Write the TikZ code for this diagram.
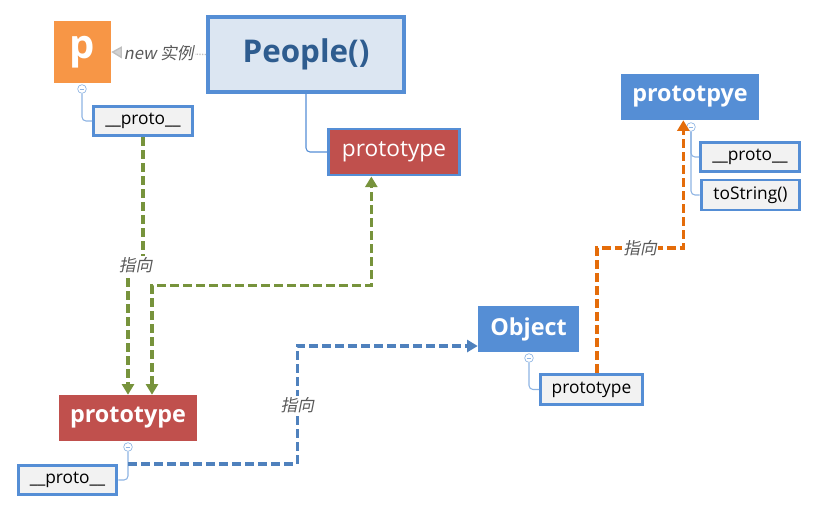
\documentclass[tikz,border=0pt]{standalone}
\usepackage{fontspec}
\setmainfont{Open Sans}
\newfontfamily\cjk[FakeSlant=0.2]{Noto Sans CJK SC}
\usetikzlibrary{arrows.meta, positioning}

\definecolor{boxblue}{HTML}{558ED5}
\definecolor{foldblue}{HTML}{8EB4E3}
\definecolor{porange}{HTML}{F79646}
\definecolor{protored}{HTML}{C0504D}
\definecolor{peoplefill}{HTML}{DCE6F2}
\definecolor{peopletext}{HTML}{2E5C8F}
\definecolor{lightfill}{HTML}{F2F2F2}
\definecolor{arrowgreen}{HTML}{77933C}
\definecolor{arroworange}{HTML}{E46C0A}
\definecolor{arrowblue}{HTML}{4F81BD}
\definecolor{labelgray}{HTML}{595959}

\begin{document}
\begin{tikzpicture}[x=0.75pt, y=-0.75pt,   % pixel-like units
    leaf/.style={
        draw=boxblue,
        fill=lightfill,
        line width=2.2pt,
        inner sep=0pt,
        minimum width=74pt,
        minimum height=22pt,
        font=\fontsize{13}{15}\selectfont
    },
    topic/.style={
        inner sep=0pt,
        text=white,
        font=\bfseries\fontsize{17.5}{20}\selectfont
    },
    fold/.style={
        circle, draw=foldblue, fill=white, line width=0.5pt,
        inner sep=0pt, minimum size=6.5pt,
        path picture={\draw[foldblue, line width=0.5pt]
            ([xshift=-1.8pt]path picture bounding box.center) --
            ([xshift=1.8pt]path picture bounding box.center);}
    },
    branch/.style={draw=foldblue, line width=0.8pt, rounded corners=3pt},
    tag/.style={
        fill=white, inner sep=1pt, text=labelgray,
        font=\cjk\fontsize{12.5}{14}\selectfont
    },
    link/.style={
        line width=2.6pt, dash pattern=on 6.75pt off 3pt,
        arrows={-Triangle[length=8pt, width=9pt]}
    }
]
    \useasboundingbox (0,0) rectangle (818,512);

    % 1. The instance p
    \node [topic, fill=porange, minimum width=42.75pt, minimum height=46.5pt,
        font=\bfseries\fontsize{30}{32}\selectfont] (p) at (82.5,52) {p};
    \node [fold] (pfold) at (82,89) {};
    \node [leaf] (pproto) at (143,121) {\_\_proto\_\_};
    \draw [branch] (pfold.south) |- (pproto.west);

    % 2. The constructor People()
    \node [draw=boxblue, fill=peoplefill, line width=3pt, inner sep=0pt,
        minimum width=147pt, minimum height=56pt, text=peopletext,
        font=\bfseries\fontsize{23.5}{26}\selectfont] (people) at (306,54.5) {People()};
    \node [topic, fill=protored, draw=boxblue, line width=2.2pt,
        minimum width=98.5pt, minimum height=34.5pt,
        font=\fontsize{17}{19}\selectfont] (peopleproto) at (394,152) {prototype};
    \draw [draw=boxblue, line width=0.8pt, rounded corners=3pt]
        (people.south) |- (peopleproto.west);

    % new
    \draw [densely dotted, draw=lightgray, line width=1pt,
        arrows={-Triangle[length=8pt, width=9pt, fill=lightgray!70]}]
        (people.west) -- node[tag] {new 实例} (p.east);

    % 3. The prototype object of People
    \node [topic, fill=protored, minimum width=103.5pt, minimum height=34.5pt]
        (baseproto) at (128,418) {prototype};
    \node [fold] (basefold) at (128,447) {};
    \node [leaf] (baseleaf) at (67.5,480) {\_\_proto\_\_};
    \draw [branch] (basefold.south) |- (baseleaf.east);

    % 4. Object and its prototype
    \node [topic, fill=boxblue, minimum width=75.75pt, minimum height=34.5pt]
        (object) at (528.5,329) {Object};
    \node [fold] (objfold) at (529,358) {};
    \node [leaf, minimum width=76.5pt, minimum height=22.5pt] (objproto) at (591.5,389.5) {prototype};
    \draw [branch] (objfold.south) |- (objproto.west);

    \node [topic, fill=boxblue, minimum width=103.5pt, minimum height=34.5pt]
        (topproto) at (690,97) {prototpye};
    \node [fold] (topfold) at (691,127) {};
    \node [leaf] (topleaf) at (750,157) {\_\_proto\_\_};
    \node [leaf, minimum height=22.5pt] (tostring) at (750.5,195) {toString()};
    \draw [branch] (topfold.south) |- (topleaf.west);
    \draw [branch] (topfold.south) |- (tostring.west);

    % The Connections
    \draw [link, arrowgreen] (pproto.south) -- ++(0,128)
        -| node[tag, pos=0.25] {指向} (baseproto.north);
    \draw [link, arrowgreen, arrows={Triangle[length=8pt, width=9pt]-Triangle[length=8pt, width=9pt]}]
        ([xshift=18pt]baseproto.north) -- ++(0,-109) -| ([xshift=-17pt]peopleproto.south);
    \draw [link, arrowblue] ([xshift=7.5pt]baseleaf.north east) -- ++(169,0)
        |- node[tag, pos=0.25] {指向} ([yshift=-12.75pt]object.west);
    \draw [link, arroworange] ([xshift=4pt]objproto.north) -- ++(0,-125)
        -| node[tag, pos=0.25] {指向} ([xshift=-5pt]topproto.south);

\end{tikzpicture}
\end{document}
